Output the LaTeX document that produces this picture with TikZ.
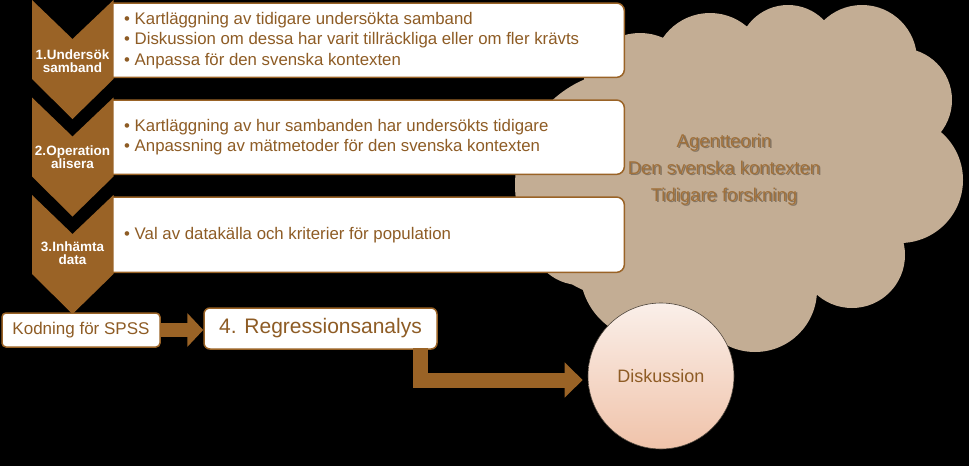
\documentclass[tikz,border=0pt]{standalone}
\usepackage{fontspec}
\setmainfont{Liberation Sans}
\usepackage{tikz}
\usetikzlibrary{calc,arrows.meta,positioning}
\definecolor{chevcol}{HTML}{9A6326}
\definecolor{txtbrown}{HTML}{8E5C25}
\definecolor{cloudcol}{HTML}{C3AD94}
\definecolor{cloudtxt}{HTML}{A0703A}
\definecolor{diskup}{HTML}{FAEFE9}
\definecolor{diskdown}{HTML}{F0C3AA}
\tikzset{
	stepbox/.style={draw=chevcol, line width=1.5pt, fill=white, rounded corners=8pt, inner sep=0pt},
	stepline/.style={draw=chevcol, line width=1.5pt, fill=white, rounded corners=8pt},
	bullettext/.style={text=txtbrown, align=left, inner sep=0pt, anchor=west, font=\fontsize{16.8}{20.5}\selectfont},
	chevtext/.style={text=white, align=center, inner sep=0pt, font=\bfseries\fontsize{13.5}{13}\selectfont},
	blockarrow/.style={draw=chevcol, line join=miter},
}

\begin{document}
\begin{tikzpicture}[x=1pt,y=-1pt]
\useasboundingbox (0,0) rectangle (969,466);
\fill[black] (0,0) rectangle (969,466);

% moln
\fill[cloudcol] (630,185) circle (115);
\fill[cloudcol] (770,175) circle (120);
\fill[cloudcol] (640,90) circle (57);
\fill[cloudcol] (710,70) circle (57);
\fill[cloudcol] (788,55) circle (50);
\fill[cloudcol] (862,60) circle (55);
\fill[cloudcol] (900,100) circle (52);
\fill[cloudcol] (900,180) circle (63);
\fill[cloudcol] (852,255) circle (53);
\fill[cloudcol] (755,290) circle (62);
\fill[cloudcol] (650,270) circle (70);
\fill[cloudcol] (580,235) circle (50);
\node[text=black!70!cloudcol, opacity=0.45, align=center, font=\fontsize{18.5}{27}\selectfont] (cloudshadow) at (725.5,171) {Agentteorin\\Den svenska kontexten\\Tidigare forskning};
\node[text=cloudtxt, align=center, font=\fontsize{18.5}{27}\selectfont] (cloud) at (724,169.5) {Agentteorin\\Den svenska kontexten\\Tidigare forskning};

% rutor
\node[minimum width=511pt, minimum height=74pt, inner sep=0pt, anchor=north west] (box1) at (113,3) {};
\node[minimum width=511pt, minimum height=74pt, inner sep=0pt, anchor=north west] (box2) at (113,100) {};
\node[minimum width=511pt, minimum height=75pt, inner sep=0pt, anchor=north west] (box3) at (113,197) {};
\filldraw[stepline] (box1.north west) -- (box1.north east) -- (box1.south east) -- (box1.south west);
\filldraw[stepline] (box2.north west) -- (box2.north east) -- (box2.south east) -- (box2.south west);
\filldraw[stepline] (box3.north west) -- (box3.north east) -- (box3.south east) -- (box3.south west);
\node[bullettext] (txt1) at ($(box1.west)+(11,0)$) {• Kartläggning av tidigare undersökta samband\\• Diskussion om dessa har varit tillräckliga eller om fler krävts\\• Anpassa för den svenska kontexten};
\node[bullettext] (txt2) at ($(box2.west)+(11,0)$) {• Kartläggning av hur sambanden har undersökts tidigare\\• Anpassning av mätmetoder för den svenska kontexten};
\node[bullettext] (txt3) at ($(box3.west)+(11,0)$) {• Val av datakälla och kriterier för population};

% pilar (chevroner)
\fill[chevcol] (32,0) -- (72.5,39) -- (113.5,0) -- (113.5,79) -- (72.5,119) -- (32,79) -- cycle;
\fill[chevcol] (32,97.5) -- (72.5,136.5) -- (113.5,97.5) -- (113.5,176.5) -- (72.5,216.5) -- (32,176.5) -- cycle;
\fill[chevcol] (32,195) -- (72.5,234) -- (113.5,195) -- (113.5,274) -- (72.5,314) -- (32,274) -- cycle;
\node[chevtext] (step1) at (72.5,61) {1.Undersök\\samband};
\node[chevtext] (step2) at (72.5,157) {2.Operation\\alisera};
\node[chevtext] (step3) at (72.5,253) {3.Inhämta\\data};

% nedre delen
\node[stepbox, rounded corners=4pt, minimum width=158pt, minimum height=34pt, text=txtbrown, font=\fontsize{17}{17}\selectfont] (kod) at (81,330) {Kodning för SPSS};
\node[stepbox, rounded corners=6pt, minimum width=233pt, minimum height=41pt, text=txtbrown, font=\fontsize{21}{21}\selectfont] (reg) at (320.5,328.5) {4. Regressionsanalys};
\node[circle, draw=black!60!cloudcol, line width=0.6pt, top color=diskup, bottom color=diskdown, minimum size=146pt, inner sep=0pt, text=txtbrown, font=\fontsize{18}{18}\selectfont] (disk) at (661,376) {Diskussion};

\draw[blockarrow, line width=14pt, -{Triangle[length=16pt,width=33pt]}] (kod.east) -- (kod.east -| reg.west);
\draw[blockarrow, line width=15pt, -{Triangle[length=18pt,width=34pt]}] ($(reg.south east)+(-17,-2)$) |- ($(disk.west)+(-5,4)$);
\end{tikzpicture}
\end{document}
